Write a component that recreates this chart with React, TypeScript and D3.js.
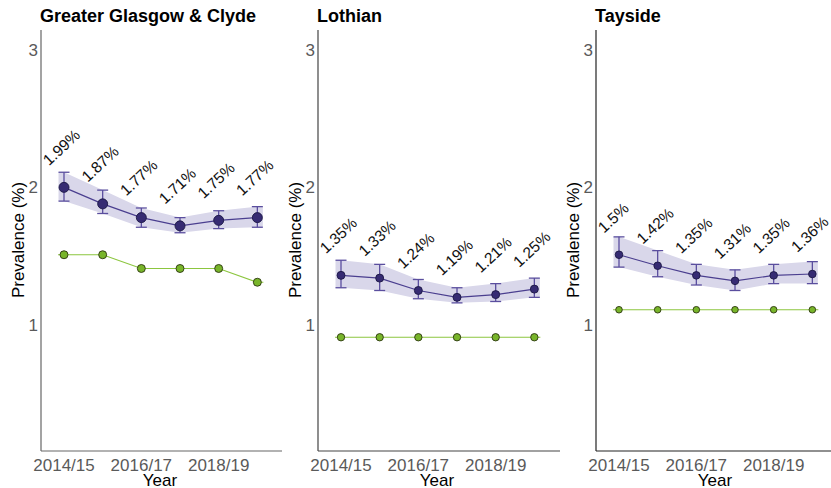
import React from "react";
import * as d3 from "d3";

const years = ["2014/15", "2015/16", "2016/17", "2017/18", "2018/19", "2019/20"];
const tickYears = ["2014/15", "2016/17", "2018/19"];
const yTicks = [1, 2, 3];
const boards = ["Greater Glasgow & Clyde", "Lothian", "Tayside"];

const ggcPrev = [1.99, 1.87, 1.77, 1.71, 1.75, 1.77];
const ggcLower = [1.89, 1.8, 1.7, 1.66, 1.69, 1.7];
const ggcUpper = [2.1, 1.97, 1.84, 1.77, 1.82, 1.85];
const ggcComparator = [1.5, 1.5, 1.4, 1.4, 1.4, 1.3];

const lothPrev = [1.35, 1.33, 1.24, 1.19, 1.21, 1.25];
const lothLower = [1.26, 1.24, 1.18, 1.15, 1.16, 1.19];
const lothUpper = [1.46, 1.43, 1.32, 1.26, 1.29, 1.33];
const lothComparator = [0.9, 0.9, 0.9, 0.9, 0.9, 0.9];

const taysPrev = [1.5, 1.42, 1.35, 1.31, 1.35, 1.36];
const taysLower = [1.41, 1.34, 1.28, 1.24, 1.29, 1.29];
const taysUpper = [1.63, 1.53, 1.43, 1.39, 1.43, 1.45];
const taysComparator = [1.1, 1.1, 1.1, 1.1, 1.1, 1.1];

const panelData = [
  { prev: ggcPrev, lower: ggcLower, upper: ggcUpper, comp: ggcComparator },
  { prev: lothPrev, lower: lothLower, upper: lothUpper, comp: lothComparator },
  { prev: taysPrev, lower: taysLower, upper: taysUpper, comp: taysComparator },
];

const FONT = "'Liberation Sans', Arial, Helvetica, sans-serif";
const axisXs = [41, 318, 596];
const axisEnds = [282, 560, 831];
const axisColors = ["#666", "#444", "#222"];
const purpleR = [5, 4, 3.8];
const greenR = [4, 3.7, 3.3];

const yScale = d3.scaleLinear().domain([0.0727, 3.1345]).range([451, 30]);

function Panel({ idx }: { idx: number }) {
  const ax = axisXs[idx];
  const d = panelData[idx];
  const x = d3
    .scalePoint<string>()
    .domain(years)
    .range([ax + 23, ax + 23 + 5 * 38.67]);
  const ext = 5.5;
  const xs = years.map((yr) => x(yr) as number);

  const ribbonPts = years.map((yr, i) => ({ x: xs[i], lo: d.lower[i], hi: d.upper[i] }));
  const ribbonExt = [
    { x: xs[0] - ext, lo: d.lower[0], hi: d.upper[0] },
    ...ribbonPts,
    { x: xs[5] + ext, lo: d.lower[5], hi: d.upper[5] },
  ];
  const area = d3
    .area<{ x: number; lo: number; hi: number }>()
    .x((p) => p.x)
    .y0((p) => yScale(p.lo))
    .y1((p) => yScale(p.hi));
  const line = d3
    .line<{ x: number; v: number }>()
    .x((p) => p.x)
    .y((p) => yScale(p.v));
  const prevLine = years.map((yr, i) => ({ x: xs[i], v: d.prev[i] }));
  const compLine = [
    { x: xs[0] - 6, v: d.comp[0] },
    ...years.map((yr, i) => ({ x: xs[i], v: d.comp[i] })),
    { x: xs[5] + 6, v: d.comp[5] },
  ];

  return (
    <g>
      <text x={ax - 1} y={22} fontFamily={FONT} fontWeight="bold" fontSize={18} fill="#000">
        {boards[idx]}
      </text>
      <line x1={ax} x2={ax} y1={30} y2={451} stroke={axisColors[idx]} strokeWidth={1.2} />
      <line x1={ax} x2={axisEnds[idx]} y1={451} y2={451} stroke={axisColors[idx]} strokeWidth={1.2} />
      {yTicks.map((t) => (
        <text key={t} x={ax - 3} y={yScale(t) + 7.5} textAnchor="end" fontFamily={FONT} fontSize={17} fill="#5a5a5a">
          {t}
        </text>
      ))}
      {tickYears.map((t) => (
        <text key={t} x={x(t) as number} y={470.5} textAnchor="middle" fontFamily={FONT} fontSize={17} fill="#5a5a5a">
          {t}
        </text>
      ))}
      <text x={ax + 119} y={486} textAnchor="middle" fontFamily={FONT} fontSize={17} fill="#000">
        Year
      </text>
      <text
        transform={`translate(${ax - 22.5},240) rotate(-90)`}
        dy="0.35em"
        textAnchor="middle"
        fontFamily={FONT}
        fontSize={17}
        fill="#000"
      >
        Prevalence (%)
      </text>
      <path d={line(compLine) as string} fill="none" stroke="#8cc63f" strokeWidth={1.2} />
      {xs.map((px, i) => (
        <circle key={"g" + i} cx={px} cy={yScale(d.comp[i])} r={greenR[idx]} fill="#78b52a" stroke="#2b3610" strokeWidth={0.9} />
      ))}
      <path d={area(ribbonExt) as string} fill="#d9d7ea" />
      <path d={line(prevLine) as string} fill="none" stroke="#4a3e8f" strokeWidth={1.2} />
      {xs.map((px, i) => (
        <g key={"e" + i} stroke="#5a4e9e" strokeWidth={1.3}>
          <line x1={px} x2={px} y1={yScale(d.lower[i])} y2={yScale(d.upper[i])} />
          <line x1={px - 5.5} x2={px + 5.5} y1={yScale(d.lower[i])} y2={yScale(d.lower[i])} />
          <line x1={px - 5.5} x2={px + 5.5} y1={yScale(d.upper[i])} y2={yScale(d.upper[i])} />
        </g>
      ))}
      {xs.map((px, i) => (
        <circle key={"p" + i} cx={px} cy={yScale(d.prev[i])} r={purpleR[idx]} fill="#362b73" stroke="#1c1745" strokeWidth={0.9} />
      ))}
      {xs.map((px, i) => (
        <text
          key={"l" + i}
          transform={`translate(${px - 15},${yScale(d.prev[i]) - 21}) rotate(-43)`}
          fontFamily={FONT}
          fontSize={15.5}
          fill="#111"
        >
          {`${d.prev[i]}%`}
        </text>
      ))}
    </g>
  );
}

export default function App() {
  return (
    <svg
      width={831}
      height={488}
      style={{ position: "absolute", left: 0, top: 0, display: "block", background: "#fff" }}
    >
      <rect x={0} y={0} width={831} height={488} fill="#fff" />
      {[0, 1, 2].map((i) => (
        <Panel key={i} idx={i} />
      ))}
    </svg>
  );
}
